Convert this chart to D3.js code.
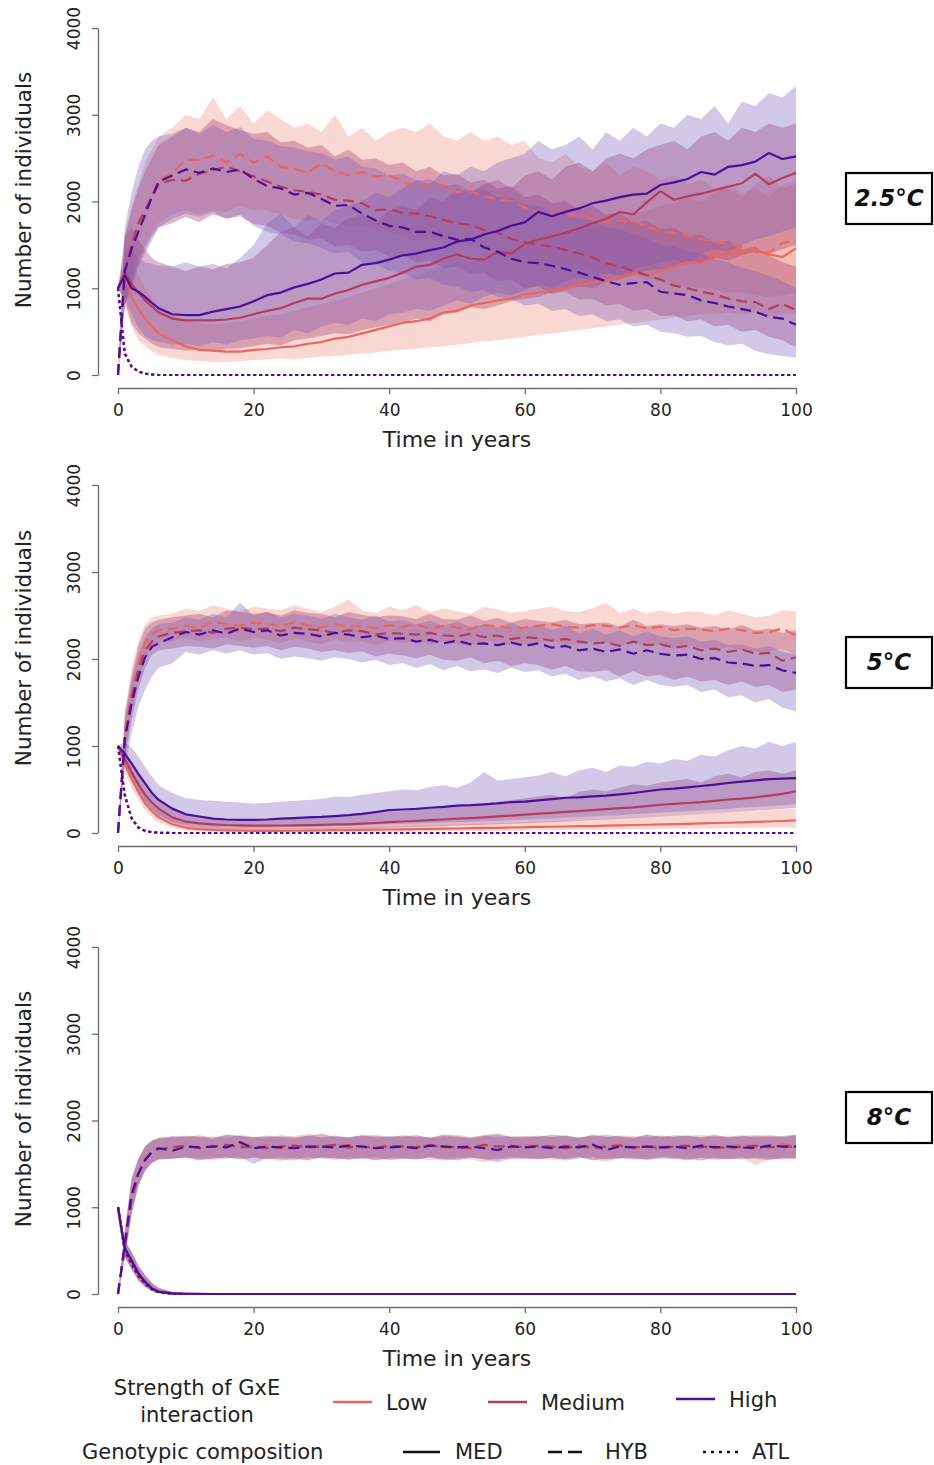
<!DOCTYPE html>
<html><head><meta charset="utf-8">
<script src="https://cdn.jsdelivr.net/npm/d3@7"></script>
<style>body{margin:0;background:#fff}svg{display:block}</style>
</head><body>
<svg id="chart" width="934" height="1465"></svg>
<script>
// ---------- shared categories / ticks ----------
const years = [0,1,2,3,4,5,6,
  8,10,12,14,16,18,20,
  22,24,26,28,30,32,34,36,38,40,
  42,44,46,48,50,52,54,56,58,60,
  62,64,66,68,70,72,74,76,78,80,
  82,84,86,88,90,92,94,96,98,100];
const strengths = ["Low","Medium","High"];
const genotypes = ["MED","HYB","ATL"];
const panelLabels = ["2.5°C","5°C","8°C"];
const xTicks = [0,20,40,60,80,100];
const yTicks = [0,1000,2000,3000,4000];

// ---------- 2.5°C ----------
const t25_low_MED = [1000,1150,900,760,650,560,470, 400,330,290,280,270,270,290,
  300,320,330,360,380,420,440,480,520,560, 600,620,650,720,740,800,830,860,880,930,
  950,970,1000,1040,1070,1100,1120,1170,1150,1200, 1250,1300,1290,1370,1400,1420,1440,1390,1360,1460];
const t25_low_MED_lo = [1000,800,550,400,330,270,230, 200,170,160,150,150,160,170,
  180,190,180,200,210,220,230,250,260,280, 290,300,320,330,350,370,390,400,420,440,
  460,480,500,520,540,560,580,600,620,640, 660,680,700,700,720,700,720,680,700,700];
const t25_low_MED_hi = [1000,1500,1350,1150,1000,880,780, 700,620,600,580,600,620,650,
  680,700,740,780,820,850,900,950,1000,1050, 1100,1150,1200,1250,1300,1300,1380,1420,1450,1500,
  1550,1600,1620,1680,1700,1750,1800,1850,1900,1950, 1980,2050,2000,2100,2150,2050,2200,2300,2150,2200];
const t25_low_HYB = [0,1200,1500,1750,1900,2050,2250, 2330,2480,2480,2530,2450,2550,2450,
  2520,2400,2380,2330,2440,2350,2300,2340,2290,2300, 2240,2150,2200,2190,2110,2120,2060,2030,2000,1930,
  1880,1860,1830,1860,1800,1770,1780,1770,1720,1650, 1640,1600,1570,1530,1510,1480,1420,1410,1520,1560];
const t25_low_HYB_lo = [0,800,1100,1350,1500,1650,1750, 1850,1900,1850,1900,1880,1950,1900,
  1900,1850,1800,1780,1800,1750,1700,1720,1680,1650, 1600,1550,1580,1520,1500,1480,1450,1400,1380,1350,
  1300,1280,1250,1250,1200,1180,1150,1150,1100,1080, 1050,1020,1000,980,950,950,920,900,920,950];
const t25_low_HYB_hi = [0,1600,1950,2200,2450,2600,2750, 2850,3000,2950,3200,2950,3100,2900,
  3050,2950,2850,2900,2800,3000,2750,2850,2700,2800, 2850,2800,2900,2750,2700,2800,2700,2750,2650,2700,
  2500,2450,2550,2400,2350,2450,2300,2400,2350,2250, 2300,2200,2250,2150,2200,2100,2150,2050,2200,2250];
const t25_low_ATL = [1000,250,100,40,15,5,0, 0,0,0,0,0,0,0,
  0,0,0,0,0,0,0,0,0,0, 0,0,0,0,0,0,0,0,0,0, 0,0,0,0,0,0,0,0,0,0, 0,0,0,0,0,0,0,0,0,0];

const t25_med_MED = [1000,1200,1050,950,860,790,720, 650,630,630,630,640,660,700,
  740,770,830,880,880,940,980,1040,1080,1120, 1180,1250,1270,1340,1390,1340,1330,1420,1400,1510,
  1560,1600,1640,1690,1750,1800,1880,1850,1990,2120, 2020,2060,2090,2130,2170,2210,2320,2200,2270,2330];
const t25_med_MED_lo = [1000,850,600,480,420,360,320, 300,280,290,270,300,310,330,
  360,340,400,420,450,480,470,520,550,580, 600,650,620,700,720,780,760,800,850,880,
  900,950,980,1020,1000,1080,1100,1150,1200,1220, 1250,1280,1300,1350,1320,1380,1420,1400,1450,1500];
const t25_med_MED_hi = [1000,1600,1700,1550,1450,1350,1300, 1250,1200,1250,1220,1280,1300,1350,
  1500,1650,1700,1600,1750,1700,1800,1850,1750,1900, 1950,1900,2050,2000,2150,2100,2200,2250,2150,2300,
  2350,2250,2400,2450,2350,2500,2550,2500,2600,2650, 2700,2600,2750,2800,2700,2850,2800,2900,2850,2900];
const t25_med_HYB = [0,1200,1500,1750,1900,2050,2200, 2250,2240,2320,2360,2400,2350,2290,
  2230,2170,2130,2110,2080,2020,2010,1980,1900,1910, 1870,1860,1830,1790,1750,1730,1670,1640,1570,1530,
  1500,1480,1440,1400,1350,1290,1250,1200,1150,1100, 1030,1000,960,930,880,850,840,760,820,750];
const t25_med_HYB_lo = [0,800,1050,1300,1450,1600,1700, 1750,1820,1760,1850,1800,1830,1740,
  1720,1640,1620,1560,1580,1480,1500,1420,1440,1360, 1380,1300,1320,1230,1250,1160,1180,1080,1100,1000,
  1020,930,960,870,880,800,820,740,760,680, 690,620,640,560,580,500,520,440,400,320];
const t25_med_HYB_hi = [0,1600,1900,2150,2350,2500,2650, 2750,2850,2800,2950,2880,2820,2780,
  2800,2680,2700,2620,2650,2520,2600,2480,2500,2420, 2450,2350,2400,2300,2320,2220,2250,2150,2180,2050,
  2080,1980,2000,1900,1950,1850,1880,1750,1780,1680, 1700,1600,1620,1520,1550,1450,1480,1380,1300,1250];
const t25_med_ATL = [1000,260,100,40,15,5,0, 0,0,0,0,0,0,0,
  0,0,0,0,0,0,0,0,0,0, 0,0,0,0,0,0,0,0,0,0, 0,0,0,0,0,0,0,0,0,0, 0,0,0,0,0,0,0,0,0,0];

const t25_high_MED = [1000,1150,1000,960,900,830,770, 700,690,690,730,760,790,850,
  920,950,1010,1050,1100,1170,1180,1270,1290,1330, 1380,1400,1440,1470,1540,1560,1620,1660,1720,1760,
  1880,1830,1880,1920,1980,2010,2050,2080,2090,2190, 2220,2260,2340,2310,2400,2420,2460,2560,2490,2520];
const t25_high_MED_lo = [1000,900,700,550,450,400,380, 350,360,330,380,350,400,420,
  450,430,520,480,560,600,580,650,620,700, 720,760,740,800,860,820,900,950,920,980,
  1050,1000,1080,1120,1100,1180,1150,1220,1260,1300, 1330,1280,1400,1450,1420,1500,1560,1600,1650,1700];
const t25_high_MED_hi = [1000,1400,1450,1350,1300,1280,1260, 1250,1300,1250,1280,1230,1350,1500,
  1750,1860,1700,1850,1780,1900,1950,2000,2100,2050, 2150,2250,2200,2350,2300,2400,2350,2450,2500,2550,
  2700,2600,2650,2750,2600,2800,2700,2850,2750,2900, 2850,3000,2950,3100,2900,3150,3100,3250,3200,3330];
const t25_high_HYB = [0,1200,1450,1650,1850,2050,2230, 2300,2370,2330,2380,2340,2370,2260,
  2180,2150,2080,2100,2030,1950,1960,1860,1780,1720, 1700,1650,1650,1600,1560,1570,1470,1420,1340,1300,
  1290,1260,1220,1180,1130,1080,1040,1060,1070,960, 940,920,860,830,790,760,730,670,650,580];
const t25_high_HYB_lo = [0,800,1000,1250,1400,1550,1700, 1800,1860,1820,1880,1800,1850,1720,
  1650,1620,1540,1520,1460,1400,1420,1300,1280,1200, 1180,1100,1120,1040,1020,960,980,900,880,800,
  820,740,760,680,700,620,640,560,580,500, 480,440,450,380,340,360,280,240,220,200];
const t25_high_HYB_hi = [0,1700,2100,2400,2600,2700,2750, 2780,2850,2780,2880,2800,2860,2720,
  2700,2640,2620,2580,2560,2480,2520,2400,2380,2300, 2320,2240,2260,2180,2200,2120,2140,2050,2040,1960,
  1950,1880,1860,1800,1780,1700,1680,1620,1580,1500, 1480,1420,1400,1340,1300,1240,1200,1140,1080,1000];
const t25_high_ATL = [1000,240,95,40,15,5,0, 0,0,0,0,0,0,0,
  0,0,0,0,0,0,0,0,0,0, 0,0,0,0,0,0,0,0,0,0, 0,0,0,0,0,0,0,0,0,0, 0,0,0,0,0,0,0,0,0,0];

// ---------- 5°C ----------
const t5_low_MED = [1000,800,620,470,340,250,180, 100,60,45,35,30,28,25,
  25,25,26,28,30,32,34,36,38,40, 42,45,48,50,52,55,58,60,63,66,
  70,72,75,78,80,84,88,92,95,98, 102,106,110,115,118,122,128,132,138,145];
const t5_low_MED_lo = [1000,700,520,380,260,180,120, 60,30,20,15,12,10,8,
  8,8,9,10,10,11,12,13,14,15, 16,17,18,19,20,22,24,25,27,28,
  30,32,34,35,36,38,40,42,44,46, 48,50,52,54,56,58,60,62,64,66];
const t5_low_MED_hi = [1000,900,740,580,440,340,260, 160,100,80,70,60,55,50,
  50,52,55,58,60,62,65,68,72,75, 80,85,90,95,100,105,110,115,120,126,
  132,138,144,150,158,165,172,180,188,195, 200,210,215,225,235,240,250,260,270,280];
const t5_low_HYB = [0,1150,1600,1950,2180,2290,2330, 2350,2380,2360,2430,2400,2380,2420,
  2400,2380,2420,2390,2360,2400,2370,2380,2350,2390, 2370,2400,2350,2380,2360,2340,2390,2380,2350,2360,
  2380,2400,2370,2360,2390,2380,2360,2390,2350,2370, 2330,2350,2340,2320,2350,2330,2300,2310,2350,2270];
const t5_low_HYB_lo = [0,900,1350,1750,2000,2150,2200, 2200,2250,2200,2230,2250,2200,2250,
  2220,2180,2240,2200,2170,2230,2190,2200,2160,2210, 2180,2220,2160,2200,2170,2150,2210,2190,2160,2170,
  2190,2210,2170,2160,2200,2180,2150,2190,2140,2170, 2120,2150,2130,2100,2140,2110,2080,2090,2120,2050];
const t5_low_HYB_hi = [0,1400,1900,2200,2400,2480,2500, 2520,2580,2550,2620,2580,2550,2600,
  2580,2560,2620,2580,2540,2600,2680,2560,2530,2600, 2560,2620,2540,2580,2550,2520,2600,2570,2530,2550,
  2580,2600,2550,2540,2580,2650,2530,2580,2520,2560, 2520,2550,2540,2500,2560,2520,2480,2500,2560,2550];
const t5_low_ATL = [1000,450,180,70,25,10,3, 0,0,0,0,0,0,0,
  0,0,0,0,0,0,0,0,0,0, 0,0,0,0,0,0,0,0,0,0, 0,0,0,0,0,0,0,0,0,0, 0,0,0,0,0,0,0,0,0,0];

const t5_med_MED = [1000,850,700,560,440,350,280, 180,130,110,100,92,88,85,
  85,86,88,90,94,98,100,108,115,125, 132,140,148,155,165,172,180,190,200,212,
  222,232,242,252,262,275,285,295,310,325, 335,345,355,370,385,395,410,430,450,480];
const t5_med_MED_lo = [1000,750,600,460,350,270,200, 110,70,55,45,40,38,35,
  35,36,38,40,42,45,48,52,56,60, 65,70,75,80,85,90,95,100,106,112,
  118,125,132,140,148,156,164,172,180,190, 198,206,215,225,235,245,255,265,275,290];
const t5_med_MED_hi = [1000,950,820,680,560,460,380, 270,210,180,160,150,145,145,
  150,155,160,165,175,185,195,210,225,240, 250,265,280,290,310,320,340,360,380,400,
  420,440,400,470,500,480,520,560,540,580, 600,620,580,650,680,640,700,720,680,720];
const t5_med_HYB = [0,1100,1550,1880,2100,2200,2260, 2300,2320,2330,2300,2350,2360,2340,
  2350,2320,2360,2340,2330,2300,2330,2320,2280,2300, 2290,2280,2300,2270,2260,2290,2250,2270,2230,2250,
  2240,2210,2230,2200,2180,2190,2150,2200,2160,2170, 2130,2150,2100,2120,2080,2110,2060,2070,1980,2020];
const t5_med_HYB_lo = [0,850,1300,1650,1900,2050,2100, 2120,2150,2140,2120,2170,2150,2130,
  2150,2100,2140,2120,2080,2100,2070,2090,2030,2060, 2040,2010,2050,1990,1980,2020,1950,1980,1920,1950,
  1930,1880,1920,1860,1850,1870,1800,1860,1800,1820, 1760,1800,1740,1760,1700,1740,1680,1700,1620,1650];
const t5_med_HYB_hi = [0,1350,1800,2150,2350,2420,2450, 2480,2500,2520,2480,2560,2540,2520,
  2540,2500,2560,2530,2520,2480,2540,2510,2480,2500, 2490,2460,2520,2460,2450,2500,2440,2470,2420,2460,
  2440,2420,2450,2400,2410,2420,2370,2450,2380,2400, 2380,2400,2360,2380,2340,2390,2330,2350,2300,2330];
const t5_med_ATL = [1000,440,170,65,25,10,3, 0,0,0,0,0,0,0,
  0,0,0,0,0,0,0,0,0,0, 0,0,0,0,0,0,0,0,0,0, 0,0,0,0,0,0,0,0,0,0, 0,0,0,0,0,0,0,0,0,0];

const t5_high_MED = [1000,910,800,680,570,460,380, 280,215,190,165,155,150,150,
  155,165,172,180,185,195,205,220,240,262, 270,278,290,300,315,320,330,340,355,360,
  375,390,405,410,420,430,445,460,480,500, 510,525,540,555,575,590,605,620,625,630];
const t5_high_MED_lo = [1000,800,620,480,360,270,200, 130,95,80,70,65,60,60,
  62,65,68,70,75,80,85,90,95,100, 105,110,115,120,125,130,135,140,148,155,
  160,168,175,180,190,200,205,215,225,235, 240,250,260,270,280,290,300,310,320,330];
const t5_high_MED_hi = [1000,1050,980,880,760,650,550, 460,400,380,370,360,350,340,
  345,360,370,380,390,420,410,440,460,480, 500,490,530,550,520,580,700,600,620,640,
  660,700,650,720,750,700,780,760,820,800, 850,830,900,880,950,1000,970,1050,1000,1050];
const t5_high_HYB = [0,1070,1490,1790,2020,2140,2180, 2250,2310,2280,2330,2290,2350,2310,
  2330,2270,2300,2290,2260,2300,2280,2250,2270,2230, 2240,2200,2220,2180,2210,2170,2180,2160,2190,2150,
  2180,2130,2150,2100,2120,2080,2110,2060,2100,2060, 2040,2050,2000,2010,1960,1950,1920,1930,1870,1840];
const t5_high_HYB_lo = [0,750,1150,1450,1650,1800,1900, 1950,2080,2050,2100,2060,2100,2050,
  2070,2000,2030,2010,1980,2020,2000,1960,1990,1930, 1950,1900,1940,1870,1920,1860,1880,1840,1900,1850,
  1870,1800,1830,1760,1800,1740,1780,1700,1760,1700, 1680,1700,1620,1650,1560,1580,1500,1540,1440,1400];
const t5_high_HYB_hi = [0,1300,1750,2050,2250,2350,2400, 2420,2480,2450,2520,2480,2650,2500,
  2540,2480,2520,2500,2460,2520,2480,2450,2500,2430, 2450,2400,2440,2380,2430,2370,2400,2360,2420,2350,
  2400,2330,2380,2300,2350,2280,2330,2260,2320,2260, 2240,2260,2200,2220,2160,2170,2120,2150,2080,2050];
const t5_high_ATL = [1000,430,165,60,22,8,2, 0,0,0,0,0,0,0,
  0,0,0,0,0,0,0,0,0,0, 0,0,0,0,0,0,0,0,0,0, 0,0,0,0,0,0,0,0,0,0, 0,0,0,0,0,0,0,0,0,0];

// ---------- 8°C ----------
const t8_low_MED = [1000,510,370,220,130,58,24, 6,2,0,0,0,0,0,
  0,0,0,0,0,0,0,0,0,0, 0,0,0,0,0,0,0,0,0,0, 0,0,0,0,0,0,0,0,0,0, 0,0,0,0,0,0,0,0,0,0];
const t8_low_MED_lo = [1000,420,280,150,80,32,10, 2,0,0,0,0,0,0,
  0,0,0,0,0,0,0,0,0,0, 0,0,0,0,0,0,0,0,0,0, 0,0,0,0,0,0,0,0,0,0, 0,0,0,0,0,0,0,0,0,0];
const t8_low_MED_hi = [1000,610,480,320,210,125,65, 22,7,2,0,0,0,0,
  0,0,0,0,0,0,0,0,0,0, 0,0,0,0,0,0,0,0,0,0, 0,0,0,0,0,0,0,0,0,0, 0,0,0,0,0,0,0,0,0,0];
const t8_low_HYB = [0,550,1100,1400,1560,1640,1680, 1690,1700,1690,1710,1700,1720,1690,
  1710,1680,1700,1690,1710,1700,1720,1690,1700,1710, 1690,1700,1720,1680,1700,1690,1710,1700,1680,1720,
  1700,1690,1710,1700,1680,1700,1720,1690,1700,1710, 1690,1700,1710,1680,1700,1720,1690,1700,1730,1700];
const t8_low_HYB_lo = [0,400,900,1250,1430,1520,1560, 1570,1560,1580,1540,1570,1560,1580,
  1560,1530,1580,1560,1570,1540,1580,1560,1550,1570, 1550,1570,1540,1560,1580,1550,1520,1570,1550,1560,
  1570,1540,1560,1580,1550,1520,1570,1560,1540,1570, 1560,1550,1570,1540,1560,1580,1480,1550,1570,1560];
const t8_low_HYB_hi = [0,700,1300,1550,1700,1760,1800, 1810,1830,1800,1820,1790,1840,1810,
  1830,1800,1820,1850,1810,1830,1800,1820,1840,1810, 1820,1830,1800,1820,1840,1810,1830,1800,1820,1810,
  1830,1810,1820,1800,1840,1810,1830,1820,1800,1830, 1810,1820,1840,1810,1830,1800,1820,1840,1810,1830];
const t8_low_ATL = [1000,490,340,200,115,50,18, 3,0,0,0,0,0,0,
  0,0,0,0,0,0,0,0,0,0, 0,0,0,0,0,0,0,0,0,0, 0,0,0,0,0,0,0,0,0,0, 0,0,0,0,0,0,0,0,0,0];

const t8_med_MED = [1000,520,380,230,135,60,25, 7,2,0,0,0,0,0,
  0,0,0,0,0,0,0,0,0,0, 0,0,0,0,0,0,0,0,0,0, 0,0,0,0,0,0,0,0,0,0, 0,0,0,0,0,0,0,0,0,0];
const t8_med_MED_lo = [1000,425,285,155,82,34,11, 2,0,0,0,0,0,0,
  0,0,0,0,0,0,0,0,0,0, 0,0,0,0,0,0,0,0,0,0, 0,0,0,0,0,0,0,0,0,0, 0,0,0,0,0,0,0,0,0,0];
const t8_med_MED_hi = [1000,615,485,325,215,128,68, 24,8,2,0,0,0,0,
  0,0,0,0,0,0,0,0,0,0, 0,0,0,0,0,0,0,0,0,0, 0,0,0,0,0,0,0,0,0,0, 0,0,0,0,0,0,0,0,0,0];
const t8_med_HYB = [0,540,1080,1380,1550,1630,1670, 1690,1710,1680,1700,1720,1690,1700,
  1680,1700,1710,1690,1700,1720,1690,1700,1680,1710, 1700,1690,1710,1700,1690,1680,1720,1700,1710,1690,
  1710,1700,1680,1710,1690,1700,1710,1690,1700,1680, 1700,1710,1690,1700,1680,1700,1710,1690,1700,1700];
const t8_med_HYB_lo = [0,410,920,1240,1420,1510,1550, 1560,1570,1540,1560,1580,1550,1570,
  1550,1570,1560,1540,1580,1560,1550,1570,1540,1560, 1570,1550,1580,1560,1540,1570,1560,1550,1580,1560,
  1550,1570,1560,1580,1540,1560,1570,1550,1560,1580, 1570,1560,1540,1570,1560,1550,1570,1560,1550,1570];
const t8_med_HYB_hi = [0,720,1320,1560,1710,1770,1800, 1820,1810,1830,1800,1840,1820,1810,
  1800,1830,1810,1820,1850,1810,1800,1830,1820,1810, 1830,1810,1800,1840,1820,1800,1830,1850,1810,1820,
  1810,1840,1820,1800,1830,1810,1820,1800,1840,1810, 1830,1820,1810,1840,1800,1820,1830,1810,1820,1840];
const t8_med_ATL = [1000,495,345,205,118,52,19, 3,0,0,0,0,0,0,
  0,0,0,0,0,0,0,0,0,0, 0,0,0,0,0,0,0,0,0,0, 0,0,0,0,0,0,0,0,0,0, 0,0,0,0,0,0,0,0,0,0];

const t8_high_MED = [1000,530,390,240,140,65,27, 8,3,1,0,0,0,0,
  0,0,0,0,0,0,0,0,0,0, 0,0,0,0,0,0,0,0,0,0, 0,0,0,0,0,0,0,0,0,0, 0,0,0,0,0,0,0,0,0,0];
const t8_high_MED_lo = [1000,430,290,160,85,35,12, 2,0,0,0,0,0,0,
  0,0,0,0,0,0,0,0,0,0, 0,0,0,0,0,0,0,0,0,0, 0,0,0,0,0,0,0,0,0,0, 0,0,0,0,0,0,0,0,0,0];
const t8_high_MED_hi = [1000,620,490,330,220,130,70, 25,8,2,0,0,0,0,
  0,0,0,0,0,0,0,0,0,0, 0,0,0,0,0,0,0,0,0,0, 0,0,0,0,0,0,0,0,0,0, 0,0,0,0,0,0,0,0,0,0];
const t8_high_HYB = [0,580,1150,1390,1545,1640,1680, 1650,1700,1690,1700,1690,1750,1680,
  1700,1690,1680,1700,1700,1690,1710,1700,1680,1690, 1700,1680,1710,1700,1690,1700,1680,1660,1700,1690,
  1700,1680,1700,1690,1720,1660,1700,1690,1700,1690, 1700,1680,1710,1690,1700,1690,1680,1710,1700,1700];
const t8_high_HYB_lo = [0,420,950,1250,1420,1510,1550, 1560,1580,1550,1570,1560,1580,1500,
  1570,1550,1540,1580,1560,1570,1550,1560,1580,1540, 1560,1550,1570,1540,1560,1580,1550,1520,1560,1570,
  1560,1570,1540,1560,1580,1550,1560,1570,1550,1560, 1560,1540,1570,1560,1550,1570,1560,1540,1570,1560];
const t8_high_HYB_hi = [0,750,1350,1560,1700,1770,1790, 1800,1820,1810,1790,1830,1820,1800,
  1820,1810,1790,1830,1800,1820,1810,1830,1800,1820, 1810,1830,1800,1820,1810,1790,1820,1830,1810,1800,
  1820,1810,1830,1800,1820,1840,1810,1800,1830,1820, 1810,1830,1800,1820,1810,1830,1800,1820,1810,1830];
const t8_high_ATL = [1000,500,350,210,120,54,20, 3,0,0,0,0,0,0,
  0,0,0,0,0,0,0,0,0,0, 0,0,0,0,0,0,0,0,0,0, 0,0,0,0,0,0,0,0,0,0, 0,0,0,0,0,0,0,0,0,0];

// ---------- assemble ----------
function series(MED, MED_lo, MED_hi, HYB, HYB_lo, HYB_hi, ATL){
  return {MED, MED_lo, MED_hi, HYB, HYB_lo, HYB_hi, ATL};
}
const panels = [
  {label: panelLabels[0], data: {
    Low: series(t25_low_MED,t25_low_MED_lo,t25_low_MED_hi,t25_low_HYB,t25_low_HYB_lo,t25_low_HYB_hi,t25_low_ATL),
    Medium: series(t25_med_MED,t25_med_MED_lo,t25_med_MED_hi,t25_med_HYB,t25_med_HYB_lo,t25_med_HYB_hi,t25_med_ATL),
    High: series(t25_high_MED,t25_high_MED_lo,t25_high_MED_hi,t25_high_HYB,t25_high_HYB_lo,t25_high_HYB_hi,t25_high_ATL)}},
  {label: panelLabels[1], data: {
    Low: series(t5_low_MED,t5_low_MED_lo,t5_low_MED_hi,t5_low_HYB,t5_low_HYB_lo,t5_low_HYB_hi,t5_low_ATL),
    Medium: series(t5_med_MED,t5_med_MED_lo,t5_med_MED_hi,t5_med_HYB,t5_med_HYB_lo,t5_med_HYB_hi,t5_med_ATL),
    High: series(t5_high_MED,t5_high_MED_lo,t5_high_MED_hi,t5_high_HYB,t5_high_HYB_lo,t5_high_HYB_hi,t5_high_ATL)}},
  {label: panelLabels[2], data: {
    Low: series(t8_low_MED,t8_low_MED_lo,t8_low_MED_hi,t8_low_HYB,t8_low_HYB_lo,t8_low_HYB_hi,t8_low_ATL),
    Medium: series(t8_med_MED,t8_med_MED_lo,t8_med_MED_hi,t8_med_HYB,t8_med_HYB_lo,t8_med_HYB_hi,t8_med_ATL),
    High: series(t8_high_MED,t8_high_MED_lo,t8_high_MED_hi,t8_high_HYB,t8_high_HYB_lo,t8_high_HYB_hi,t8_high_ATL)}}
];

// ---------- style ----------
const lineColors = {Low:"#eb675b", Medium:"#b63c5e", High:"#4a0f9b"};
const bandColors = {Low:"#f09a92", Medium:"#a8406e", High:"#7558b8"};
const bandOpacity = {Low:0.4, Medium:0.37, High:0.33};
const dashes = {MED:null, HYB:"11,6", ATL:"3,3"};
const FONT = "'DejaVu Sans', Verdana, sans-serif";

const svg = d3.select("#chart");
const x = d3.scaleLinear().domain([0,100]).range([118,796]);
const yZero = [375, 833, 1294];
const yTop = [28, 485, 947];
const boxTop = [173, 637, 1092];

panels.forEach((p, i) => {
  const y = d3.scaleLinear().domain([0,4000]).range([yZero[i], yTop[i]]);
  const g = svg.append("g");

  // bands
  strengths.forEach(s => {
    const d = p.data[s];
    ["MED","HYB"].forEach(gt => {
      const area = d3.area()
        .x((_, j) => x(years[j]))
        .y0((_, j) => y(d[gt + "_lo"][j]))
        .y1((_, j) => y(d[gt + "_hi"][j]));
      g.append("path").datum(years).attr("d", area)
        .attr("fill", bandColors[s]).attr("fill-opacity", bandOpacity[s]).attr("stroke", "none");
    });
  });

  // mean lines
  const line = d3.line().x((_, j) => x(years[j])).y(v => y(v));
  strengths.forEach(s => {
    const d = p.data[s];
    genotypes.forEach(gt => {
      g.append("path").datum(d[gt]).attr("d", line)
        .attr("fill", "none").attr("stroke", lineColors[s])
        .attr("stroke-width", 2.2)
        .attr("stroke-dasharray", dashes[gt])
        .attr("stroke-linejoin", "round");
    });
  });

  // y axis
  const yAxis = g.append("g").attr("transform", "translate(98,0)")
    .call(d3.axisLeft(y).tickValues(yTicks).tickSize(6).tickSizeOuter(0).tickFormat(d3.format("d")));
  yAxis.select(".domain").attr("stroke", "#6b6b6b").attr("stroke-width", 1.3);
  yAxis.selectAll(".tick line").attr("stroke", "#6b6b6b").attr("stroke-width", 1.3);
  yAxis.selectAll(".tick text")
    .attr("transform", "rotate(-90)").attr("x", 0).attr("y", -18).attr("dy", 0)
    .attr("text-anchor", "middle").attr("fill", "#222")
    .style("font-family", FONT).style("font-size", "17px");

  // x axis
  const xAxis = g.append("g").attr("transform", `translate(0,${yZero[i] + 13})`)
    .call(d3.axisBottom(x).tickValues(xTicks).tickSize(6).tickSizeOuter(0));
  xAxis.select(".domain").attr("stroke", "#6b6b6b").attr("stroke-width", 1.3);
  xAxis.selectAll(".tick line").attr("stroke", "#6b6b6b").attr("stroke-width", 1.3);
  xAxis.selectAll(".tick text").attr("y", 16).attr("dy", "0.71em").attr("fill", "#222")
    .style("font-family", FONT).style("font-size", "17px");

  // titles
  g.append("text").attr("x", 457).attr("y", yZero[i] + 72).attr("text-anchor", "middle")
    .style("font-family", FONT).style("font-size", "22px").attr("fill", "#222").text("Time in years");
  g.append("text").attr("transform", `translate(31,${yZero[i] - 185}) rotate(-90)`)
    .attr("text-anchor", "middle").style("font-family", FONT).style("font-size", "21.5px")
    .attr("fill", "#222").text("Number of individuals");

  // panel label box
  g.append("rect").attr("x", 846).attr("y", boxTop[i]).attr("width", 86).attr("height", 51)
    .attr("fill", "#fff").attr("stroke", "#000").attr("stroke-width", 2.2);
  g.append("text").attr("x", 889).attr("y", boxTop[i] + 33).attr("text-anchor", "middle")
    .style("font-family", FONT).style("font-size", "23px").style("font-weight", "bold")
    .style("font-style", "italic").attr("fill", "#111").text(p.label);
});

// ---------- legend ----------
const leg = svg.append("g").style("font-family", FONT).style("font-size", "21px").attr("fill", "#222");
leg.append("text").attr("x", 197).attr("y", 1395).attr("text-anchor", "middle").text("Strength of GxE");
leg.append("text").attr("x", 197).attr("y", 1422).attr("text-anchor", "middle").text("interaction");
const legStrX = [333, 488, 676];
const legStrY = [1402, 1402, 1399];
strengths.forEach((s, k) => {
  leg.append("line").attr("x1", legStrX[k]).attr("x2", legStrX[k] + 39)
    .attr("y1", legStrY[k]).attr("y2", legStrY[k])
    .attr("stroke", lineColors[s]).attr("stroke-width", 2.5);
  leg.append("text").attr("x", legStrX[k] + 53).attr("y", legStrY[k] + 8).text(s);
});
leg.append("text").attr("x", 82).attr("y", 1459).text("Genotypic composition");
const legGenX = [403, 548, 703];
const legGenLen = [37, 39, 35];
const legGenTextX = [455, 605, 752];
genotypes.forEach((gt, k) => {
  leg.append("line").attr("x1", legGenX[k]).attr("x2", legGenX[k] + legGenLen[k])
    .attr("y1", 1452).attr("y2", 1452).attr("stroke", "#111").attr("stroke-width", 2.5)
    .attr("stroke-dasharray", gt === "HYB" ? "14,6" : gt === "ATL" ? "3,5" : null);
  leg.append("text").attr("x", legGenTextX[k]).attr("y", 1459).text(gt);
});
</script>
</body></html>
